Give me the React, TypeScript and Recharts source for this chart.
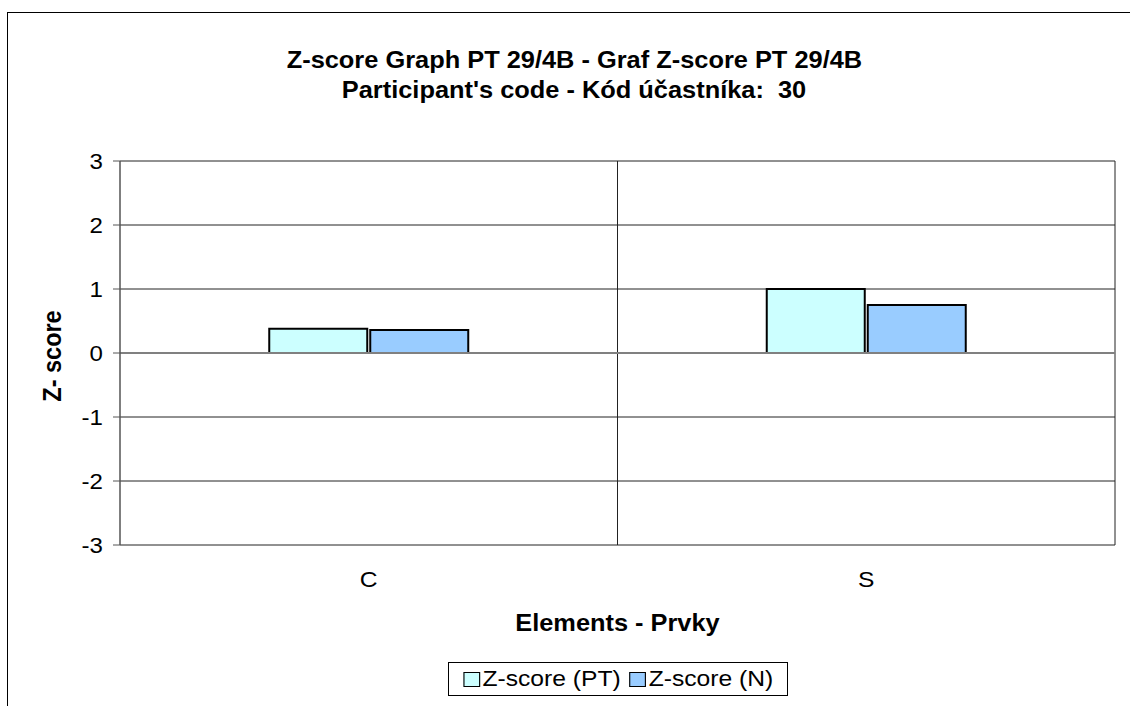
import React from 'react';
import { BarChart, Bar, XAxis, YAxis, CartesianGrid, Legend, ReferenceLine } from 'recharts';

const categories = ['C', 'S'];
const ptValues = [0.38, 1.0];
const nValues = [0.36, 0.75];
const yTicks = [-3, -2, -1, 0, 1, 2, 3];
const seriesNames = ['Z-score (PT)', 'Z-score (N)'];
const seriesColors = ['#CCFFFF', '#99CCFF'];
const titleLines = ['Z-score Graph PT 29/4B - Graf Z-score PT 29/4B', "Participant's code - Kód účastníka:  30"];

const data = categories.map((c, i) => ({ name: c, pt: ptValues[i], n: nValues[i] }));

const FONT = '"Liberation Sans", Arial, sans-serif';
const SX = 1.12;
const SX_BOLD = 1.08;

const LegendContent = () => {
  return (
    <div
      style={{
        border: '1px solid #000',
        background: '#fff',
        width: 340,
        height: 34,
        boxSizing: 'border-box',
        display: 'flex',
        alignItems: 'center',
        justifyContent: 'center',
        overflow: 'visible',
      }}
    >
      <div
        style={{
          display: 'inline-flex',
          alignItems: 'center',
          fontFamily: FONT,
          fontSize: 22,
          color: '#000',
          whiteSpace: 'nowrap',
          transform: `scaleX(${SX})`,
        }}
      >
        {seriesNames.map((name, i) => (
          <span key={i} style={{ display: 'inline-flex', alignItems: 'center', marginRight: i < seriesNames.length - 1 ? 8 : 0 }}>
            <span
              style={{
                display: 'inline-block',
                width: 13,
                height: 13,
                background: seriesColors[i],
                border: '1px solid #000',
                marginRight: 2,
              }}
            />
            {name}
          </span>
        ))}
      </div>
    </div>
  );
};

const YLabel = (props: any) => {
  const vb = props.viewBox || {};
  const cx = 52;
  const cy = vb.y + vb.height / 2 + 3;
  return (
    <g transform={`translate(${cx}, ${cy}) scale(${SX_BOLD}, 1) rotate(-90)`}>
      <text x={0} y={0} textAnchor="middle" dy="0.36em" fontFamily={FONT} fontSize={23.5} fontWeight="bold" fill="#000">
        Z- score
      </text>
    </g>
  );
};

const XLabel = (props: any) => {
  const vb = props.viewBox || {};
  const cx = vb.x + vb.width / 2;
  const cy = vb.y + 78;
  return (
    <g transform={`translate(${cx}, ${cy}) scale(${SX_BOLD}, 1)`}>
      <text x={0} y={0} textAnchor="middle" dy="0.36em" fontFamily={FONT} fontSize={23.5} fontWeight="bold" fill="#000">
        Elements - Prvky
      </text>
    </g>
  );
};

const XTick = (props: any) => {
  const { x, y, payload } = props;
  return (
    <g transform={`translate(${x}, ${y + 34}) scale(${SX}, 1)`}>
      <text x={0} y={0} textAnchor="middle" dy="0.36em" fontFamily={FONT} fontSize={22} fill="#000">
        {payload.value}
      </text>
    </g>
  );
};

const YTick = (props: any) => {
  const { x, y, payload } = props;
  return (
    <g transform={`translate(${x}, ${y}) scale(${SX}, 1)`}>
      <text x={0} y={0} textAnchor="end" dy="0.36em" fontFamily={FONT} fontSize={21.5} fill="#000">
        {payload.value}
      </text>
    </g>
  );
};

export default function App() {
  return (
    <div style={{ position: 'fixed', left: 0, top: 0, width: 1130, height: 706, overflow: 'hidden', background: '#fff' }}>
      <div
        style={{
          position: 'absolute',
          left: 7,
          top: 12,
          width: 1200,
          height: 800,
          borderLeft: '1px solid #000',
          borderTop: '1px solid #000',
        }}
      />
      <div
        style={{
          position: 'absolute',
          left: 8,
          width: 1132,
          top: 45,
          textAlign: 'center',
          fontFamily: FONT,
          fontWeight: 'bold',
          fontSize: 23.5,
          lineHeight: '30px',
          color: '#000',
        }}
      >
        {titleLines.map((t, i) => (
          <div key={i}>
            <span style={{ display: 'inline-block', whiteSpace: 'pre', transform: `scaleX(${SX_BOLD})` }}>{t}</span>
          </div>
        ))}
      </div>
      <div style={{ position: 'absolute', left: 0, top: 0 }}>
        <BarChart
          width={1130}
          height={706}
          data={data}
          margin={{ top: 161, right: 15, bottom: 61, left: 0 }}
          barCategoryGap="30%"
          barGap={3}
        >
          <CartesianGrid
            stroke="#222"
            strokeWidth={1}
            horizontal={true}
            vertical={true}
            verticalCoordinatesGenerator={(args: any) => {
              const o = args.offset;
              return [o.left + o.width / 2, o.left + o.width];
            }}
          />
          <XAxis
            dataKey="name"
            axisLine={false}
            tickLine={false}
            tickSize={0}
            tickMargin={0}
            height={100}
            tick={<XTick />}
            label={<XLabel />}
          />
          <YAxis
            width={120}
            domain={[-3, 3]}
            ticks={yTicks}
            interval={0}
            allowDataOverflow
            axisLine={{ stroke: '#555', strokeWidth: 1.5 }}
            tickLine={{ stroke: '#555' }}
            tickSize={7}
            tickMargin={10}
            tick={<YTick />}
            label={<YLabel />}
          />
          <ReferenceLine y={0} stroke="#808080" strokeWidth={2} />
          <Bar dataKey="pt" name={seriesNames[0]} fill={seriesColors[0]} stroke="#000" strokeWidth={2} isAnimationActive={false} />
          <Bar dataKey="n" name={seriesNames[1]} fill={seriesColors[1]} stroke="#000" strokeWidth={2} isAnimationActive={false} />
          <Legend
            layout="horizontal"
            verticalAlign="middle"
            align="center"
            content={<LegendContent />}
            wrapperStyle={{ top: 662, left: 448, width: 'auto' }}
          />
        </BarChart>
      </div>
    </div>
  );
}
